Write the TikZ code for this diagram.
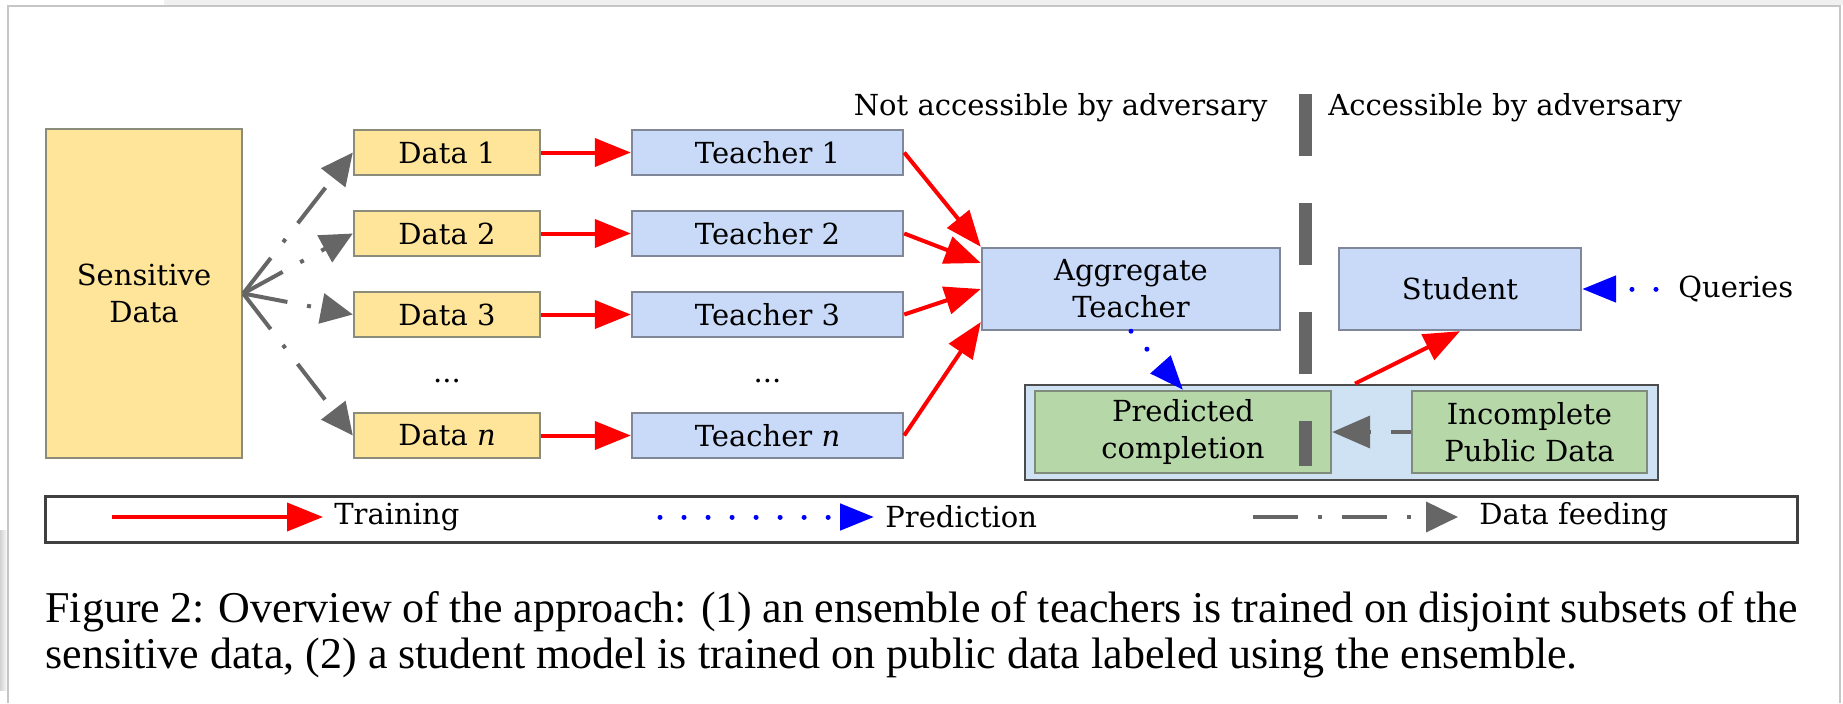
\documentclass[tikz,border=0pt]{standalone}
\usepackage{fontspec}
\setmainfont{DejaVu Serif}
\newfontfamily\capfont{Liberation Serif}
\usetikzlibrary{arrows.meta,shadows}
\definecolor{yfill}{HTML}{FFE599}
\definecolor{ydraw}{HTML}{8C8C7A}
\definecolor{bfill}{HTML}{C9DAF8}
\definecolor{bdraw}{HTML}{7F8799}
\definecolor{gfill}{HTML}{B6D7A8}
\definecolor{gdraw}{HTML}{7F8C7A}
\definecolor{pfill}{HTML}{CFE2F3}
\definecolor{fgray}{HTML}{666666}
\tikzset{
  box/.style={line width=1.2pt, inner sep=0pt, align=center},
  ybox/.style={box, fill=yfill, draw=ydraw},
  bbox/.style={box, fill=bfill, draw=bdraw},
  gbox/.style={box, fill=gfill, draw=gdraw},
  pbox/.style={box, fill=pfill, draw=black!70, line width=1.4pt},
  datab/.style={ybox, minimum width=93pt, minimum height=22.5pt},
  teachb/.style={bbox, minimum width=135.5pt, minimum height=22.5pt},
  lbl/.style={inner sep=0pt},
  train/.style={draw=red, line width=2pt, -{Triangle[length=18pt,width=14pt]}},
  predict/.style={draw=blue, line width=2.5pt, line cap=round, dash pattern=on 0.01pt off 12pt, -{Triangle[length=17pt,width=13pt]}},
  feed/.style={draw=fgray, line width=2pt, dash pattern=on 22.5pt off 10pt on 2pt off 10pt, -{Triangle[length=16pt,width=15pt]}},
  divider/.style={draw=fgray, line width=6.5pt, dash pattern=on 31pt off 23.5pt},
}
\begin{document}
\begin{tikzpicture}[x=0.5pt,y=-0.5pt, font=\fontsize{14.5}{18.5}\selectfont]
\useasboundingbox (0,0) rectangle (1843,703);
\fill[white] (0,0) rectangle (1843,703);
% page frame
\fill[gray!12] (164,0) rectangle (1843,5);
\shade[left color=gray!35, right color=white] (0,530) rectangle (8,690);
\draw[gray!45, line width=1pt] (8,703) -- (8,6) -- (1840,6) -- (1840,703);

% sensitive data and splits
\node[ybox, minimum width=98pt, minimum height=164.5pt] (sens) at (144,293.5) {Sensitive\\Data};
\node[datab] (d1) at (447,152.5) {Data 1};
\node[datab] (d2) at (447,233.5) {Data 2};
\node[datab] (d3) at (447,314.5) {Data 3};
\node[lbl] (dd) at (447,381) {...};
\node[datab] (dn) at (447,435.5) {Data {\itshape n}};

\node[teachb] (t1) at (767.5,152.5) {Teacher 1};
\node[teachb] (t2) at (767.5,233.5) {Teacher 2};
\node[teachb] (t3) at (767.5,314.5) {Teacher 3};
\node[lbl] (td) at (767.5,381) {...};
\node[teachb] (tn) at (767.5,435.5) {Teacher {\itshape n}};

\node[bbox, minimum width=149pt, minimum height=41pt] (agg) at (1131,289) {Aggregate\\Teacher};
\node[bbox, minimum width=121pt, minimum height=41pt] (st) at (1460,289) {Student};
\node[lbl, anchor=west] (q) at (1678,289) {Queries};

\node[lbl, anchor=east] (na) at (1268,108) {Not accessible by adversary};
\node[lbl, anchor=west] (ac) at (1328,108) {Accessible by adversary};

% public data container
\node[pbox, minimum width=316.5pt, minimum height=47.5pt] (pub) at (1341.5,432.5) {};
\node[gbox, minimum width=148pt, minimum height=41pt] (pred) at (1183,432) {Predicted\\completion};
\node[gbox, minimum width=117.5pt, minimum height=41pt] (inc) at (1529.5,432) {Incomplete\\Public Data};

% divider
\draw[divider] (1305,94) -- (1305,466);

% connectors
\foreach \d in {d1,d2,d3,dn} \draw[feed] (sens.east) -- (\d.west);
\draw[train] (d1.east) -- (t1.west);
\draw[train] (d2.east) -- (t2.west);
\draw[train] (d3.east) -- (t3.west);
\draw[train] (dn.east) -- (tn.west);
\draw[train] (t1.east) -- (agg.north west);
\draw[train] (t2.east) -- ([yshift=13pt]agg.west);
\draw[train] (t3.east) -- (agg.west);
\draw[train] (tn.east) -- ([yshift=-16.5pt]agg.west);
\draw[predict] (agg.south) -- (pred.north);
\draw[train] ([xshift=6.75pt]pub.north) -- (st.south);
\draw[predict] ([xshift=-11pt]q.west) -- (st.east);
\draw[feed, dash pattern=on 10pt off 10pt, -{Triangle[length=19pt,width=16pt]}] (inc.west) -- (pred.east);

% legend
\node[draw=black!75, line width=1.5pt, fill=white, drop shadow={opacity=0.35, shadow xshift=0pt, shadow yshift=-1.2pt}, minimum width=876pt, minimum height=23pt, inner sep=0pt] (leg) at (921,519) {};
\coordinate (lr1) at (112,517);
\coordinate (lr2) at (323,517);
\coordinate (lb1) at (660,517);
\coordinate (lb2) at (874,517);
\coordinate (lg1) at (1253,517);
\coordinate (lg2) at (1458,517);
\draw[train] (lr1) -- (lr2);
\draw[predict] (lb1) -- (lb2);
\draw[feed] (lg1) -- (lg2);
\node[lbl, anchor=west] (ltr) at (334,517) {Training};
\node[lbl, anchor=west] (lpr) at (885,517) {Prediction};
\node[lbl, anchor=west] (lfd) at (1479,517) {Data feeding};

% caption
\node[lbl, anchor=base west, font=\capfont\fontsize{22}{22.5}\selectfont] (cap1) at (45,622)
  {\makebox[876.5pt][s]{Figure 2: Overview of the approach: (1) an ensemble of teachers is trained on disjoint subsets of the}};
\node[lbl, anchor=base west, font=\capfont\fontsize{22}{22.5}\selectfont] (cap2) at (45,668)
  {sensitive data, (2) a student model is trained on public data labeled using the ensemble.};
\end{tikzpicture}
\end{document}
